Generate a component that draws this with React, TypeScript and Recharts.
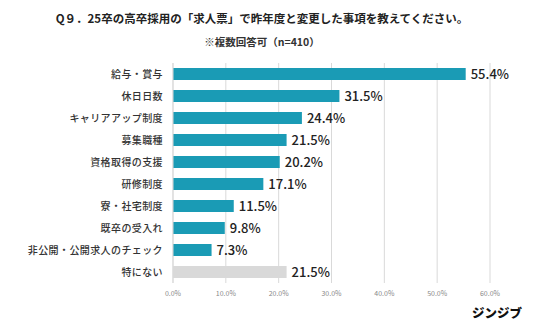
import { BarChart, Bar, XAxis, YAxis, CartesianGrid, LabelList, Cell } from "recharts"

const categories = [
  "給与・賞与",
  "休日日数",
  "キャリアアップ制度",
  "募集職種",
  "資格取得の支援",
  "研修制度",
  "寮・社宅制度",
  "既卒の受入れ",
  "非公開・公開求人のチェック",
  "特にない",
]
const values = [55.4, 31.5, 24.4, 21.5, 20.2, 17.1, 11.5, 9.8, 7.3, 21.5]
const xTicks = [0, 10, 20, 30, 40, 50, 60]

const data = categories.map((name, i) => ({ name, value: values[i] }))

const FONT = "'Noto Sans CJK JP', 'Noto Sans', sans-serif"

export default function App() {
  return (
    <div style={{ position: "absolute", left: 0, top: 0, width: 536, height: 324, background: "#fff", fontFamily: FONT }}>
      {/* Title */}
      <div style={{ position: "absolute", top: 10, left: 0, width: 536, paddingRight: 12, boxSizing: "border-box", textAlign: "center", fontSize: 11.5, fontWeight: 700, color: "#222" }}>
        Q９．25卒の高卒採用の「求人票」で昨年度と変更した事項を教えてください。
      </div>
      <div style={{ position: "absolute", top: 34, left: 0, width: 536, paddingRight: 12, boxSizing: "border-box", textAlign: "center", fontSize: 10.5, fontWeight: 700, color: "#333" }}>
        ※複数回答可（n=410）
      </div>

      <BarChart
        width={536}
        height={324}
        data={data}
        layout="vertical"
        margin={{ top: 63, right: 46, bottom: 21, left: 0 }}
        barCategoryGap={0}
      >
        <CartesianGrid horizontal={false} stroke="#d9d9d9" />
        <XAxis
          type="number"
          domain={[0, 60]}
          ticks={xTicks}
          height={20}
          axisLine={false}
          tickLine={false}
          tickFormatter={(v: number) => `${v.toFixed(1)}%`}
          tick={{ fontSize: 7, fill: "#888", fontFamily: FONT }}
        />
        <YAxis
          type="category"
          dataKey="name"
          width={173}
          axisLine={{ stroke: "#d9d9d9" }}
          tickLine={false}
          tickMargin={4}
          interval={0}
          tick={{ fontSize: 10, fill: "#333", fontFamily: FONT, fontWeight: 500, letterSpacing: 0.4 }}
        />
        <Bar dataKey="value" barSize={12} isAnimationActive={false}>
          {data.map((d, i) => (
            <Cell key={i} fill={d.name === "特にない" ? "#d9d9d9" : "#1a9bb5"} />
          ))}
          <LabelList
            dataKey="value"
            position="right"
            offset={5}
            formatter={(v: number) => `${v.toFixed(1)}%`}
            style={{ fontSize: 13, fill: "#222", fontFamily: FONT, fontWeight: 500 }}
          />
        </Bar>
      </BarChart>

      {/* Logo */}
      <div style={{ position: "absolute", left: 472, top: 303, fontSize: 12.5, fontWeight: 900, color: "#111" }}>
        ジンジブ
      </div>
    </div>
  )
}
